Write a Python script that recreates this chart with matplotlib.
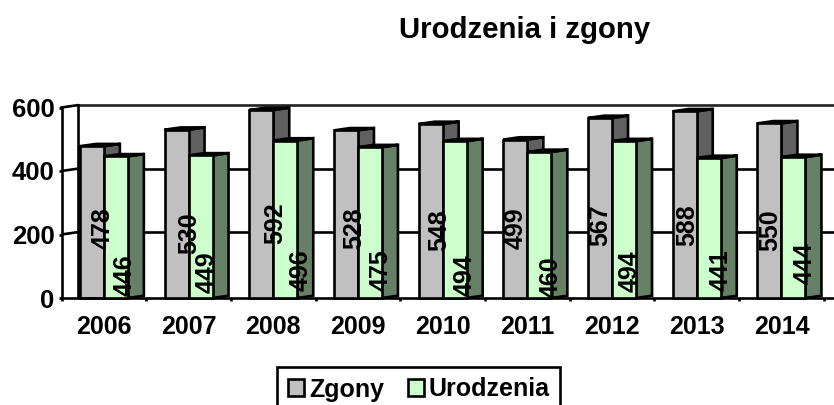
import matplotlib
matplotlib.use("Agg")
import matplotlib.pyplot as plt
from matplotlib.patches import Polygon, Patch

plt.rcParams['font.family'] = ['Liberation Sans', 'DejaVu Sans']
plt.rcParams['font.weight'] = 'bold'

years = ['2006', '2007', '2008', '2009', '2010', '2011', '2012', '2013', '2014']
zgony = [478, 530, 592, 528, 548, 499, 567, 588, 550]
urodzenia = [446, 449, 496, 475, 494, 460, 494, 441, 444]
yticks = [0, 200, 400, 600]

# pixel placement of the rotated value labels
zgony_label_px = [(100, 228), (187, 233), (273, 223), (352, 228), (437, 230), (513, 228), (598, 225), (685, 225), (768, 230)]
uro_label_px = [(122, 275), (204, 272), (298, 270), (378, 270), (462, 275), (548, 277), (627, 271), (718, 270), (802, 263)]
LABEL_SHIFT = 2.5

W, H = 834, 405
fig = plt.figure(figsize=(W / 100, H / 100), dpi=100, facecolor='white')
LEFT, BOTTOM, TOP = 61.5, 298, 107.5
ax = fig.add_axes([LEFT / W, (H - BOTTOM) / H, 1 - LEFT / W, (BOTTOM - TOP) / H])
STEP = 84.7
ax.set_xlim(-0.5, -0.5 + (W - LEFT) / STEP)
ax.set_ylim(0, 600)

bw = 24 / STEP
dx = 16 / STEP
dy = 2.3 * 600 / (BOTTOM - TOP)
lw = 1.9
LINE = '#000000'
FS = 18

# back wall
xend = ax.get_xlim()[1]
x0 = -0.5
ax.plot([x0, x0 + dx], [600, 600 + dy], color=LINE, lw=lw, clip_on=False, zorder=1)
ax.plot([x0 + dx, xend], [600 + dy, 600 + dy], color='#222222', lw=lw, clip_on=False, zorder=1)
ax.plot([x0 + dx, x0 + dx], [dy, 600 + dy], color=LINE, lw=lw, clip_on=False, zorder=1)
for v in yticks[1:-1]:
    ax.plot([x0, x0 + dx], [v, v + dy], color=LINE, lw=lw, zorder=1)
    ax.plot([x0 + dx, xend], [v + dy, v + dy], color=LINE, lw=lw, zorder=1)


def box(x_left, v, front, side, z):
    ax.add_patch(Polygon([(x_left + bw, 0), (x_left + bw + dx, dy), (x_left + bw + dx, v + dy), (x_left + bw, v)],
                         closed=True, facecolor=side, edgecolor=LINE, lw=lw, zorder=z, clip_on=False))
    ax.add_patch(Polygon([(x_left, v), (x_left + dx, v + dy), (x_left + bw + dx, v + dy), (x_left + bw, v)],
                         closed=True, facecolor=side, edgecolor=LINE, lw=lw, zorder=z, clip_on=False))
    ax.bar(x_left, v, width=bw, align='edge', color=front, edgecolor=LINE, lw=lw, zorder=z + 0.5, clip_on=False)


for i, (a, b) in enumerate(zip(zgony, urodzenia)):
    box(i - bw, a, '#C0C0C0', '#606060', 2 + i * 0.01)
    box(i, b, '#CCFFCC', '#668066', 3 + i * 0.01)


def px2data(px, py):
    return ax.transData.inverted().transform(fig.transFigure.transform((px / W, 1 - py / H)))


for vals, pos in ((zgony, zgony_label_px), (urodzenia, uro_label_px)):
    for v, (px, py) in zip(vals, pos):
        x, y = px2data(px + LABEL_SHIFT, py)
        ax.text(x, y, str(v), rotation=90, ha='center', va='center', fontsize=FS,
                fontweight='bold', color='black', zorder=6)

for s in ('top', 'right'):
    ax.spines[s].set_visible(False)
for s in ('left', 'bottom'):
    ax.spines[s].set_linewidth(lw)
ax.set_yticks(yticks)
ax.set_xticks(range(len(years)))
ax.set_xticklabels(years)
ax.set_xticks([i - 0.5 for i in range(len(years) + 1)], minor=True)
ax.tick_params(axis='x', which='major', length=0, pad=12, labelsize=FS)
ax.tick_params(axis='x', which='minor', length=2.5, width=lw)
ax.tick_params(axis='y', length=2.5, width=lw, pad=2.5, labelsize=18.5)

fig.text(525 / W, 1 - 30 / H, 'Urodzenia i zgony', ha='center', va='center', fontsize=21.2, fontweight='bold')

handles = [Patch(facecolor='#C0C0C0', edgecolor='black', lw=lw, label='Zgony'),
           Patch(facecolor='#CCFFCC', edgecolor='black', lw=lw, label='Urodzenia')]
leg = fig.legend(handles=handles, loc='lower left', bbox_to_anchor=(277 / W, 1 - 412 / H), ncol=2, frameon=True,
                 fancybox=False, edgecolor='black', framealpha=1, fontsize=FS, handlelength=0.65, handleheight=0.65,
                 handletextpad=0.2, columnspacing=0.95, borderpad=0.42, borderaxespad=0)
leg.get_frame().set_linewidth(lw)
for t in leg.get_texts():
    t.set_fontweight('bold')

fig.savefig('out.png', dpi=100, facecolor='white')
